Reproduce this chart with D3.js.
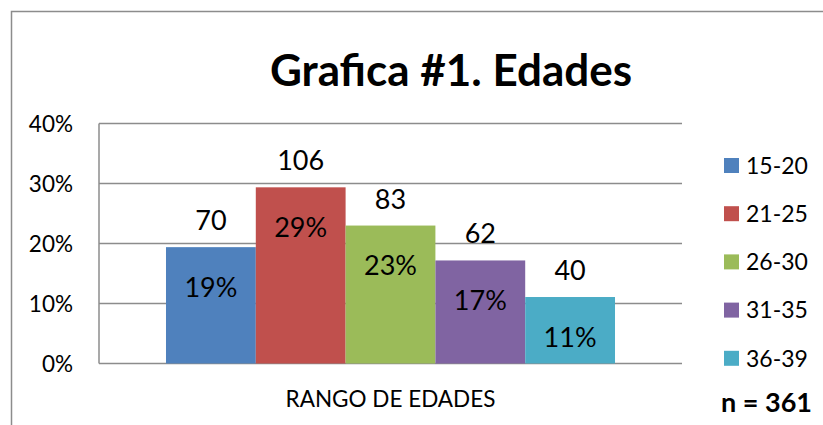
<!DOCTYPE html>
<html lang="es">
<head>
<meta charset="UTF-8">
<title>Grafica #1. Edades</title>
<script src="https://d3js.org/d3.v7.min.js"></script>
<style>
  body { margin: 0; background: #fff; }
  svg { display: block; font-family: Lato, "Open Sans", sans-serif; }
  .grid line { stroke: #8c8c8c; stroke-width: 1.5; }
  .tick-label { font-size: 22.5px; fill: #000; }
  .val-label { font-size: 27px; fill: #000; }
</style>
</head>
<body>
<script>
  // data
  var categories = ["15-20", "21-25", "26-30", "31-35", "36-39"];
  var counts = [70, 106, 83, 62, 40];
  var total = 361;
  var yTicks = [0, 0.1, 0.2, 0.3, 0.4];
  var colors = ["#4f81bd", "#c0504d", "#9bbb59", "#8064a2", "#4bacc6"];

  var W = 823, H = 425;
  var plot = { left: 99, right: 682, top: 123.5, bottom: 363.5 };

  var svg = d3.select("body").append("svg")
    .attr("width", W).attr("height", H);

  // outer frame (runs off the right and bottom edges)
  svg.append("rect")
    .attr("x", 11.5).attr("y", 11.5)
    .attr("width", W + 20).attr("height", H + 20)
    .attr("fill", "none").attr("stroke", "#8c8c8c").attr("stroke-width", 1.5);

  var x = d3.scaleBand()
    .domain(categories)
    .range([plot.left, plot.right])
    .paddingInner(0)
    .paddingOuter(0.746);

  var y = d3.scaleLinear()
    .domain([0, 0.4])
    .range([plot.bottom, plot.top]);

  // gridlines
  svg.append("g").attr("class", "grid")
    .selectAll("line").data(yTicks).enter().append("line")
    .attr("x1", plot.left).attr("x2", plot.right)
    .attr("y1", function (d) { return y(d); })
    .attr("y2", function (d) { return y(d); });

  // value axis line
  svg.append("line")
    .attr("x1", plot.left).attr("x2", plot.left)
    .attr("y1", y(0.4)).attr("y2", y(0))
    .attr("stroke", "#8c8c8c").attr("stroke-width", 1.5);

  svg.selectAll(".tick-label").data(yTicks).enter().append("text")
    .attr("class", "tick-label")
    .attr("x", 73)
    .attr("y", function (d) { return y(d); })
    .attr("dy", "0.36em")
    .attr("text-anchor", "end")
    .text(d3.format(".0%"));

  // bars
  svg.selectAll(".bar").data(counts).enter().append("rect")
    .attr("class", "bar")
    .attr("x", function (d, i) { return x(categories[i]); })
    .attr("width", x.bandwidth())
    .attr("y", function (d) { return y(d / total); })
    .attr("height", function (d) { return y(0) - y(d / total); })
    .attr("fill", function (d, i) { return colors[i]; });

  // count labels above the bars
  svg.selectAll(".count").data(counts).enter().append("text")
    .attr("class", "val-label")
    .attr("x", function (d, i) { return x(categories[i]) + x.bandwidth() / 2; })
    .attr("y", function (d) { return y(d / total) - 17; })
    .attr("text-anchor", "middle")
    .text(function (d) { return d; });

  // percentage labels inside the bars
  svg.selectAll(".pct").data(counts).enter().append("text")
    .attr("class", "val-label")
    .attr("x", function (d, i) { return x(categories[i]) + x.bandwidth() / 2; })
    .attr("y", function (d) { return y(d / total) + 40; })
    .attr("dy", "0.36em")
    .attr("text-anchor", "middle")
    .text(function (d) { return d3.format(".0%")(d / total); });

  // axis title
  svg.append("text")
    .attr("x", (plot.left + plot.right) / 2).attr("y", 407)
    .attr("text-anchor", "middle")
    .style("font-size", "22.5px")
    .text("RANGO DE EDADES");

  // chart title
  svg.append("text")
    .attr("x", 451).attr("y", 86)
    .attr("text-anchor", "middle")
    .style("font-size", "44px").style("font-weight", "bold")
    .text("Grafica #1. Edades");

  // legend
  var legend = svg.selectAll(".legend").data(categories).enter().append("g")
    .attr("transform", function (d, i) { return "translate(724," + (165.5 + i * 48.2) + ")"; });
  legend.append("rect")
    .attr("x", 0).attr("y", -7.5).attr("width", 15).attr("height", 15)
    .attr("fill", function (d, i) { return colors[i]; });
  legend.append("text")
    .attr("x", 22).attr("dy", "0.36em")
    .style("font-size", "23px")
    .text(function (d) { return d; });

  svg.append("text")
    .attr("x", 721).attr("y", 412)
    .style("font-size", "27px").style("font-weight", "bold")
    .text("n = " + total);
</script>
</body>
</html>
